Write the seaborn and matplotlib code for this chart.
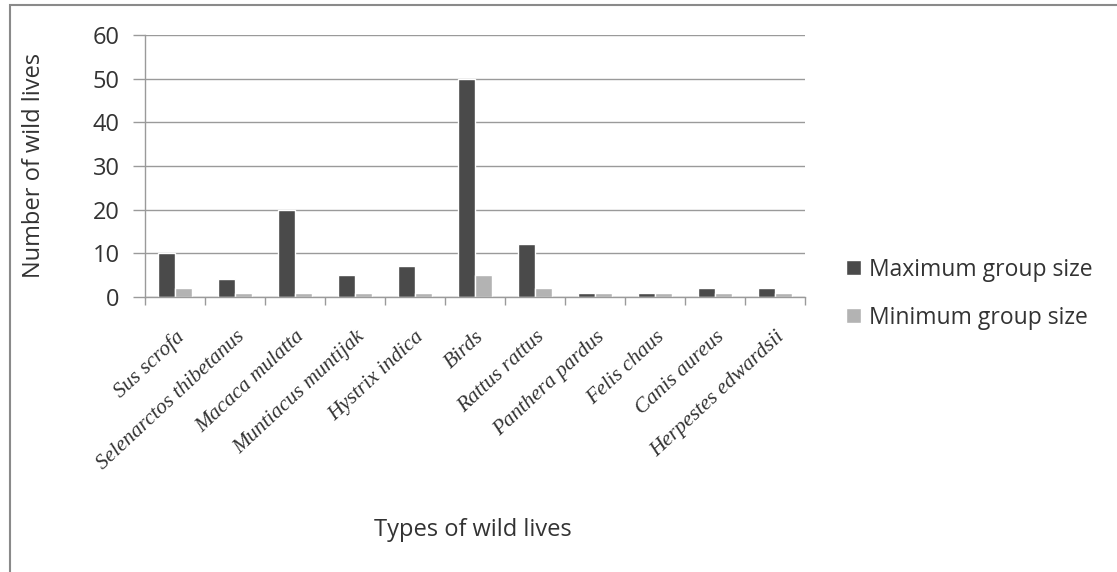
import numpy as np
import pandas as pd
import matplotlib
matplotlib.use('Agg')
import matplotlib.pyplot as plt
import seaborn as sns
from matplotlib.patches import Rectangle

species = ['Sus scrofa', 'Selenarctos thibetanus', 'Macaca mulatta', 'Muntiacus muntijak',
           'Hystrix indica', 'Birds', 'Rattus rattus', 'Panthera pardus', 'Felis chaus',
           'Canis aureus', 'Herpestes edwardsii']
max_group = [10, 4, 20, 5, 7, 50, 12, 1, 1, 2, 2]
min_group = [2, 1, 1, 1, 1, 5, 2, 1, 1, 1, 1]
series_names = ['Maximum group size', 'Minimum group size']
yticks = [0, 10, 20, 30, 40, 50, 60]

df = pd.DataFrame({
    'species': species * 2,
    'value': max_group + min_group,
    'series': [series_names[0]] * len(species) + [series_names[1]] * len(species),
})

sns.set_style('white')
plt.rcParams['font.family'] = ['Open Sans', 'DejaVu Sans']

fig = plt.figure(figsize=(11.17, 5.72), dpi=100)
ax = fig.add_axes([0.130, 0.481, 0.591, 0.458])

sns.barplot(data=df, x='species', y='value', hue='series', order=species,
            hue_order=series_names, palette=['#4a4a4a', '#b3b3b3'],
            width=0.57, saturation=1, ax=ax, legend=True)

ax.set_ylim(0, 60)
ax.set_xlim(-0.5, len(species) - 0.5)
ax.set_yticks(yticks)
ax.yaxis.grid(True, color='#9a9a9a', linewidth=1.0)
ax.set_axisbelow(True)

for s in ['top', 'right']:
    ax.spines[s].set_visible(False)
for s in ['left', 'bottom']:
    ax.spines[s].set_color('#9a9a9a')
    ax.spines[s].set_linewidth(1.0)

ax.tick_params(axis='y', labelsize=17, colors='#9a9a9a', labelcolor='#333333',
               length=8.5, width=1, direction='out', left=True, pad=10)
ax.set_xticks(np.arange(len(species)))
ax.set_xticklabels(species, rotation=43, ha='right', rotation_mode='anchor',
                   family='Liberation Serif', style='italic', fontsize=15.5, color='#333333')
ax.tick_params(axis='x', which='major', length=0, pad=22)
ax.set_xticks(np.arange(len(species) + 1) - 0.5, minor=True)
ax.tick_params(axis='x', which='minor', length=6, width=1, color='#9a9a9a',
               direction='out', bottom=True)

ax.set_xlabel('')
ax.set_ylabel('Number of wild lives', fontsize=17, color='#333333')
ax.yaxis.set_label_coords(-0.151, 0.5)
fig.text(0.423, 0.073, 'Types of wild lives', fontsize=17, color='#333333',
         ha='center', va='center')

leg = ax.legend(loc='center left', bbox_to_anchor=(1.03, 0.012), frameon=False,
                fontsize=16.5, handlelength=0.65, handleheight=0.65, handletextpad=0.35,
                labelspacing=1.05)
for t in leg.get_texts():
    t.set_color('#333333')

fig.patches.append(Rectangle((0.009, -0.05), 1.1, 1.041, transform=fig.transFigure,
                             fill=False, edgecolor='#8a8a8a', linewidth=1.5))

fig.savefig('out.png', dpi=100)
